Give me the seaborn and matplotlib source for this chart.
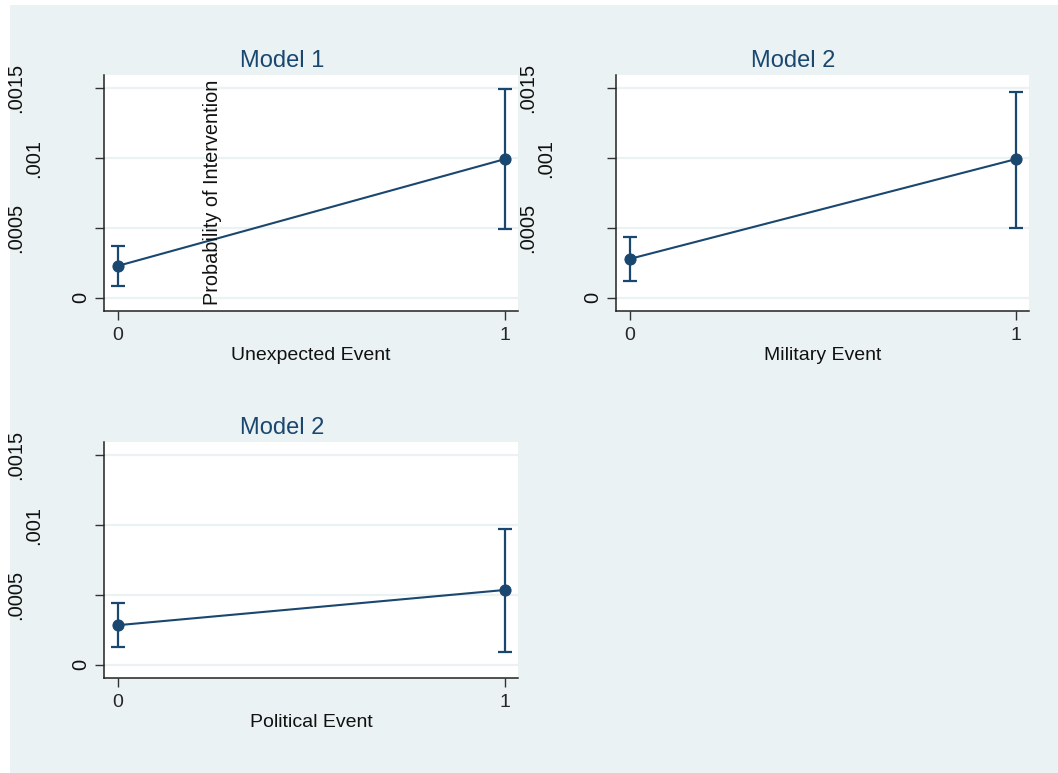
import matplotlib
matplotlib.use("Agg")
import matplotlib.pyplot as plt
import matplotlib.transforms as mtransforms
import seaborn as sns
import pandas as pd

# values
x_vals = [0, 1]
titles = ["Model 1", "Model 2", "Model 2"]
events = ["Unexpected Event", "Military Event", "Political Event"]

prob_unexpected = [0.000229, 0.000993]
lo_unexpected = [0.000086, 0.000493]
hi_unexpected = [0.000371, 0.001493]

prob_military = [0.000279, 0.000993]
lo_military = [0.000121, 0.000500]
hi_military = [0.000436, 0.001470]

prob_political = [0.000284, 0.000536]
lo_political = [0.000126, 0.000093]
hi_political = [0.000443, 0.000969]

ytick_vals = [0, 0.0005, 0.001, 0.0015]
ytick_labels = ["0", ".0005", ".001", ".0015"]
xtick_labels = ["0", "1"]

sns.set_style("white")
plt.rcParams["font.family"] = ["Liberation Sans", "DejaVu Sans"]

navy = "#1A476F"
bg = "#EAF2F3"

W, H = 1058, 773
fig = plt.figure(figsize=(W / 100, H / 100), dpi=100)
fig.patches.append(plt.Rectangle((10 / W, 0), 1, 1 - 5 / H, transform=fig.transFigure,
                                 facecolor=bg, edgecolor="none", zorder=-10))

# axes boxes in pixels: left, top, width, height
boxes = [(104, 75, 414, 236), (616, 75, 413, 236), (104, 442, 414, 236)]
series = [
    (prob_unexpected, lo_unexpected, hi_unexpected),
    (prob_military, lo_military, hi_military),
    (prob_political, lo_political, hi_political),
]
label_offsets = [-23, -88, -70, -88]  # px, Stata-style rotated tick labels

for (l, t, w, h), title, event, (p, lo, hi) in zip(boxes, titles, events, series):
    ax = fig.add_axes([l / W, 1 - (t + h) / H, w / W, h / H])
    ax.set_facecolor("white")
    df = pd.DataFrame({"x": x_vals, "p": p, "lo": lo, "hi": hi})
    ax.errorbar(df["x"], df["p"], yerr=[df["p"] - df["lo"], df["hi"] - df["p"]],
                fmt="none", ecolor=navy, elinewidth=1.6, capsize=5, capthick=1.6, zorder=3)
    sns.lineplot(data=df, x="x", y="p", ax=ax, color=navy, lw=1.5, marker="o",
                 markersize=8, markeredgecolor=navy, zorder=4)
    ax.set_xlim(-0.036, 1.034)
    ax.set_ylim(-0.000094, 0.001595)
    ax.set_xticks(x_vals)
    ax.set_xticklabels(xtick_labels)
    ax.set_yticks(ytick_vals)
    ax.set_yticklabels([])
    ax.yaxis.grid(True, color=bg, lw=1.6)
    ax.set_axisbelow(True)
    ax.tick_params(direction="out", length=6.5, width=1, color="#333333",
                   labelsize=14, pad=5, left=True, bottom=True)
    for s in ["top", "right"]:
        ax.spines[s].set_visible(False)
    for s in ["left", "bottom"]:
        ax.spines[s].set_color("#222222")
        ax.spines[s].set_linewidth(1.1)
    for v, lab, dx in zip(ytick_vals, ytick_labels, label_offsets):
        tr = ax.get_yaxis_transform() + mtransforms.ScaledTranslation(dx / 100, 0, fig.dpi_scale_trans)
        ax.text(0, v, lab, transform=tr, rotation=90, ha="center", va="center",
                fontsize=14.5, color="#111111")
    ax.set_xlabel(event, fontsize=14, labelpad=2, color="#111111")
    ax.set_ylabel("")
    ax.set_title(title, fontsize=17, color=navy, x=0.43, pad=6)

fig.text(212 / W, 1 - 192 / H, "Probability of Intervention", rotation=90,
         ha="center", va="center", fontsize=14.3, color="#111111")

fig.savefig("out.png", dpi=100)
